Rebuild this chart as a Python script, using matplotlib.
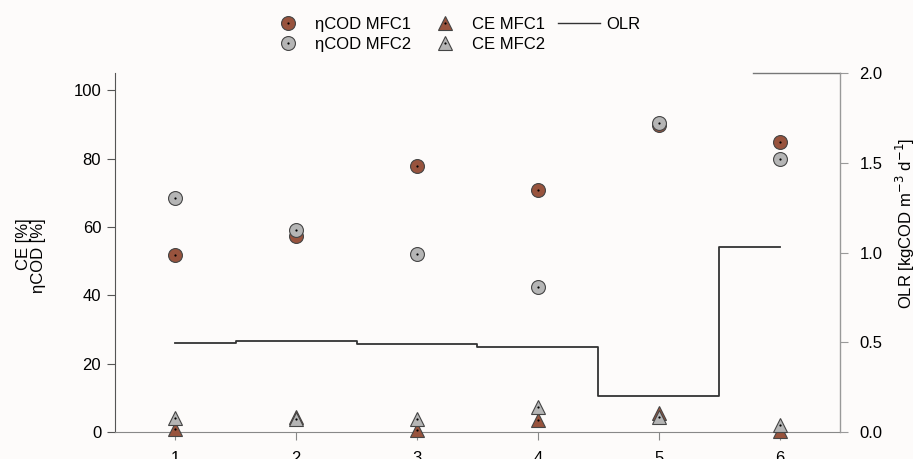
import matplotlib
matplotlib.use("Agg")
import matplotlib.pyplot as plt
from matplotlib.lines import Line2D
from matplotlib.legend_handler import HandlerTuple

plt.rcParams["font.family"] = ["Liberation Sans", "DejaVu Sans"]
plt.rcParams["font.size"] = 12

# Дані
samples = [1, 2, 3, 4, 5, 6]
cod_mfc1 = [51.8, 57.2, 77.7, 70.9, 89.9, 84.8]
cod_mfc2 = [68.5, 59.0, 52.0, 42.5, 90.3, 79.8]
ce_mfc1 = [0.9, 4.5, 0.6, 3.4, 5.6, 0.3]
ce_mfc2 = [4.0, 3.8, 3.7, 7.4, 4.5, 2.0]
olr = [0.496, 0.508, 0.492, 0.471, 0.20, 1.03]

brown = "#98533d"
grey = "#b5b5b5"
edge = "#454545"
bg = "#fdfbfa"

fig = plt.figure(figsize=(9.13, 4.59), dpi=100, facecolor=bg)
ax = fig.add_axes([0.126, 0.0588, 0.794, 0.782])
ax.set_facecolor(bg)
ax2 = ax.twinx()

mk = dict(linestyle="none", markeredgecolor=edge, markeredgewidth=0.8, markersize=10)
dot = dict(linestyle="none", marker="o", color="black", markersize=1.6, markeredgewidth=0)

ax.plot(samples, cod_mfc1, marker="o", markerfacecolor=brown, zorder=3, **mk)
ax.plot(samples, cod_mfc1, zorder=3.1, **dot)
ax.plot(samples, cod_mfc2, marker="o", markerfacecolor=grey, zorder=4, **mk)
ax.plot(samples, cod_mfc2, zorder=4.1, **dot)
ax.plot(samples, ce_mfc1, marker="^", markerfacecolor=brown, zorder=3, clip_on=False, **mk)
ax.plot(samples, ce_mfc1, zorder=3.1, clip_on=False, **dot)
ax.plot(samples, ce_mfc2, marker="^", markerfacecolor=grey, zorder=4, clip_on=False, **mk)
ax.plot(samples, ce_mfc2, zorder=4.1, clip_on=False, **dot)

ax2.plot(samples, olr, drawstyle="steps-mid", color="#333333", linewidth=1.3)

ax.set_xlim(0.5, 6.5)
ax.set_ylim(0, 105)
ax2.set_ylim(0, 2.0)
ax.set_xticks(samples)
ax.set_yticks([0, 20, 40, 60, 80, 100])
ax2.set_yticks([0.0, 0.5, 1.0, 1.5, 2.0])
ax2.set_yticklabels(["0.0", "0.5", "1.0", "1.5", "2.0"])

for a in (ax, ax2):
    a.spines["top"].set_visible(False)
ax.spines["left"].set_color("#555555")
ax.spines["bottom"].set_color("#888888")
ax2.spines["right"].set_color("#999999")
ax2.spines["left"].set_visible(False)
ax2.spines["bottom"].set_visible(False)
ax2.axhline(2.0, xmin=0.88, xmax=1.0, color="#777777", linewidth=1, clip_on=False)

ax.tick_params(axis="y", direction="out", length=6, color="#555555", pad=4)
ax.tick_params(axis="x", direction="out", length=6, color="#888888", pad=8)
ax2.tick_params(axis="y", direction="out", length=6, color="#999999", pad=8)

ax.set_ylabel("CE [%]\n\u03b7COD [%]", multialignment="right", linespacing=1.0)
ax.yaxis.set_label_coords(-0.095, 0.49)
ax2.set_ylabel("OLR [kgCOD m$^{-3}$ d$^{-1}$]", rotation=90, labelpad=8)
ax2.yaxis.set_label_coords(1.075, 0.58)

def h(face, m):
    return (Line2D([], [], marker=m, markerfacecolor=face, **mk),
            Line2D([], [], **dot))

handles = [h(brown, "o"), h(grey, "o"), h(brown, "^"), h(grey, "^"),
           Line2D([], [], color="#333333", linewidth=1)]
labels = ["\u03b7COD MFC1", "\u03b7COD MFC2", "CE MFC1", "CE MFC2", "OLR"]
fig.legend(handles, labels, loc="upper center", bbox_to_anchor=(0.497, 0.995),
           ncol=3, frameon=False, handler_map={tuple: HandlerTuple(ndivide=1, pad=0)},
           handlelength=2.5, columnspacing=0.75, labelspacing=0.3, handletextpad=0.4)

fig.savefig("out.png", dpi=100, facecolor=bg)
